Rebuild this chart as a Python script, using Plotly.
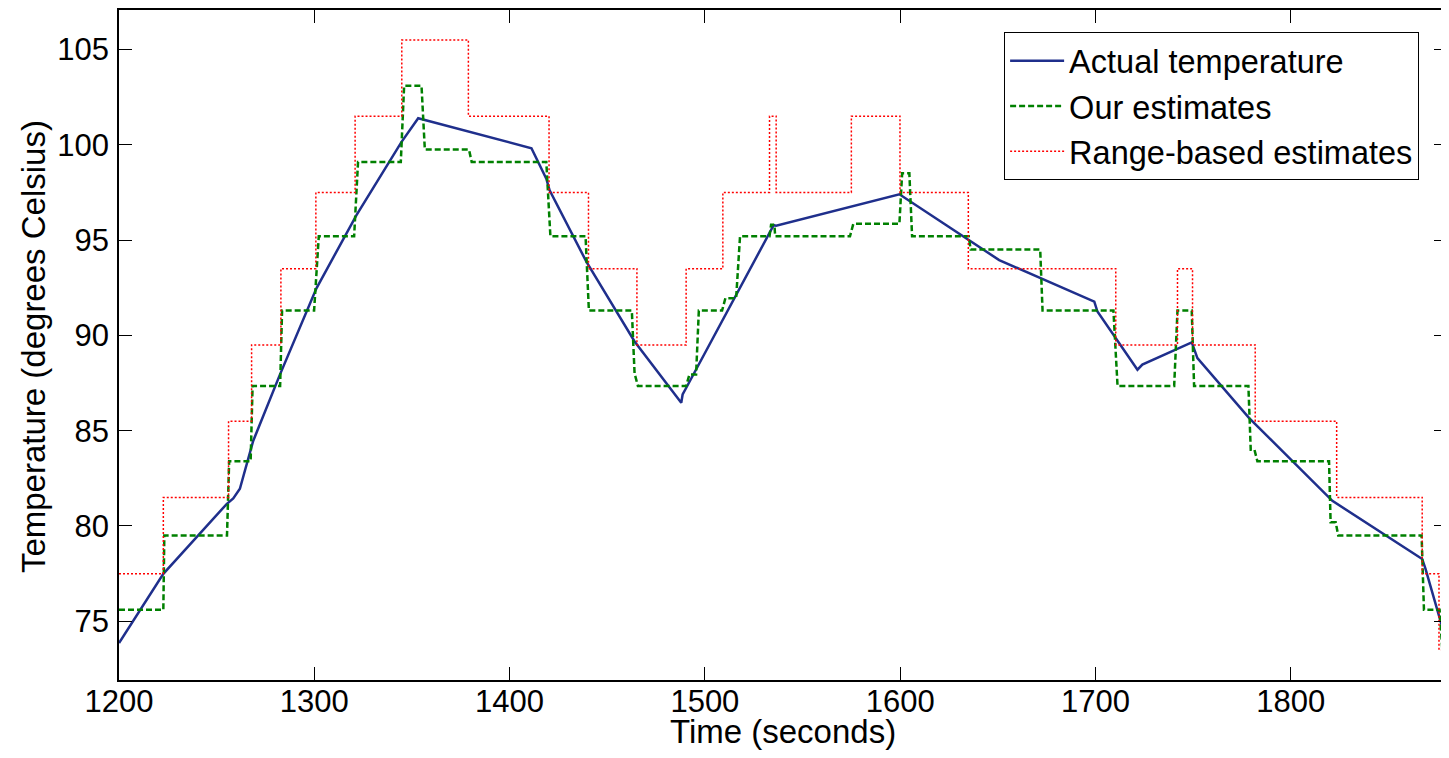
import plotly.graph_objects as go

# ---- data ----
actual_t = [1200, 1222.7, 1255.1, 1258.5, 1261.9, 1268.7, 1282.4, 1290.0, 1301.1, 1321.6,
            1344.6, 1353.2, 1411.2, 1418.8, 1420.5, 1439.3, 1464.0, 1487.9, 1488.6, 1490.4,
            1535.2, 1536.5, 1599.6, 1650.7, 1699.4, 1701.0, 1721.5, 1724.0, 1749.3, 1752.2,
            1778.6, 1821.3, 1867.3, 1869.0, 1875.9, 1880.0]
actual_T = [73.86, 77.49, 81.15, 81.45, 81.95, 84.46, 87.94, 89.75, 92.47, 96.31,
            100.14, 101.39, 99.82, 98.22, 97.61, 93.87, 89.68, 86.46, 86.9, 87.24,
            95.78, 95.75, 97.40, 93.95, 91.77, 91.25, 88.20, 88.47, 89.63, 88.81,
            85.67, 81.32, 78.27, 77.75, 75.22, 73.83]

ours_t = [1200, 1222.7, 1223.2, 1255.3, 1256.4, 1267.4, 1268.4, 1282.5, 1283.5, 1299.9,
          1302.3, 1320.4, 1322.4, 1344.3, 1346.0, 1354.9, 1356.6, 1379.2, 1380.6, 1418.8,
          1420.9, 1438.9, 1440.6, 1462.6, 1464.0, 1465.7, 1490.4, 1492.1, 1495.5, 1496.9,
          1508.8, 1510.5, 1516.0, 1518.0, 1533.1, 1533.9, 1535.6, 1536.0, 1574.3, 1576.0,
          1599.6, 1601.0, 1604.7, 1606.1, 1635.1, 1636.1, 1671.7, 1672.9, 1709.2, 1711.3,
          1740.3, 1742.0, 1749.3, 1750.5, 1778.3, 1779.5, 1781.4, 1782.9, 1819.6, 1820.4,
          1823.0, 1824.3, 1867.0, 1868.2, 1876.2, 1879.0]
ours_T = [75.6, 75.6, 79.5, 79.5, 83.4, 83.4, 87.35, 87.35, 91.3, 91.3,
          95.2, 95.2, 99.1, 99.1, 103.1, 103.1, 99.75, 99.75, 99.1, 99.1,
          95.2, 95.2, 91.3, 91.3, 88.0, 87.35, 87.35, 87.95, 87.95, 91.3,
          91.3, 91.95, 91.95, 95.2, 95.2, 95.8, 95.8, 95.2, 95.2, 95.85,
          95.85, 98.5, 98.5, 95.2, 95.2, 94.5, 94.5, 91.3, 91.3, 87.35,
          87.35, 91.3, 91.3, 87.35, 87.35, 84.0, 84.0, 83.4, 83.4, 80.2,
          80.2, 79.5, 79.5, 75.6, 75.6, 71.5]

range_t = [1200, 1222.7, 1256.1, 1267.9, 1282.9, 1300.8, 1320.9, 1344.8, 1378.9, 1420.2,
           1440.4, 1465.2, 1490.4, 1509.2, 1533.1, 1536.5, 1575.0, 1599.9, 1634.9, 1710.4,
           1742.0, 1749.7, 1781.8, 1823.5, 1867.3, 1875.9, 1880.0]
range_T = [77.5, 81.5, 85.5, 89.5, 93.5, 97.5, 101.5, 105.5, 101.5, 97.5,
           93.5, 89.5, 93.5, 97.5, 101.5, 97.5, 101.5, 97.5, 93.5, 89.5,
           93.5, 89.5, 85.5, 81.5, 77.5, 73.5, 73.5]

x_ticks = [1200, 1300, 1400, 1500, 1600, 1700, 1800]
y_ticks = [75, 80, 85, 90, 95, 100, 105]

FONT = "Liberation Sans, Arial, Helvetica, sans-serif"

fig = go.Figure()
fig.add_trace(go.Scatter(x=actual_t, y=actual_T, mode="lines", name="Actual temperature",
                         line=dict(color="#1F2F8C", width=2.5)))
fig.add_trace(go.Scatter(x=ours_t, y=ours_T, mode="lines", name="Our estimates",
                         line=dict(color="#008000", width=2.5, dash="6px,3px")))
fig.add_trace(go.Scatter(x=range_t, y=range_T, mode="lines", name="Range-based estimates",
                         line=dict(color="#FF0000", width=1.5, dash="2px,2px", shape="hv")))

axis_common = dict(showgrid=False, zeroline=False, showline=True, linecolor="black",
                   linewidth=1.5, mirror="ticks", ticks="inside", ticklen=13,
                   tickwidth=1, tickcolor="black",
                   tickfont=dict(family=FONT, size=31, color="black"))

fig.update_xaxes(range=[1200, 1880], tickvals=x_ticks, ticktext=[str(v) for v in x_ticks],
                 ticklabelstandoff=-7, **axis_common)
fig.update_yaxes(range=[71.92, 107.07], tickvals=y_ticks, ticktext=[str(v) for v in y_ticks],
                 ticklabelstandoff=2, **axis_common)

# page body has an 8px margin: figure is sized/offset to compensate
fig.update_layout(
    width=1441, height=750,
    margin=dict(l=111, r=1, t=0, b=78, pad=0),
    paper_bgcolor="white", plot_bgcolor="white",
    font=dict(family=FONT, color="black"),
    showlegend=True,
    legend=dict(x=0.979, xanchor="right", y=0.967, yanchor="top",
                bgcolor="white", bordercolor="black", borderwidth=1,
                font=dict(family=FONT, size=32.5, color="black"),
                itemwidth=54, tracegroupgap=0),
    annotations=[
        dict(text="Time (seconds)", xref="paper", yref="paper", x=0.5, y=-0.0774,
             xanchor="center", yanchor="middle", showarrow=False,
             font=dict(family=FONT, size=33, color="black")),
        dict(text="Temperature (degrees Celsius)", xref="paper", yref="paper",
             x=-0.0647, y=0.4970, xanchor="center", yanchor="middle", textangle=-90,
             showarrow=False, font=dict(family=FONT, size=33, color="black")),
    ],
)

fig.write_html("out.html")
